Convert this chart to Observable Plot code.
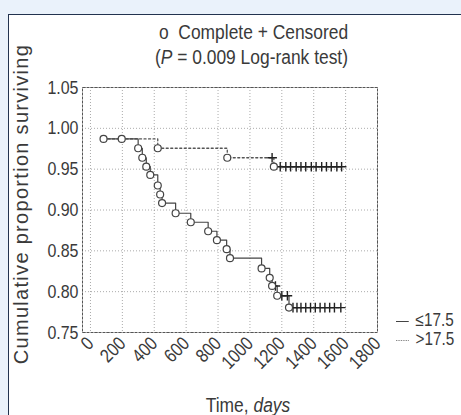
<!DOCTYPE html>
<html><head><meta charset="utf-8">
<script src="https://cdn.jsdelivr.net/npm/d3@7"></script>
<script src="https://cdn.jsdelivr.net/npm/@observablehq/plot@0.6"></script>
<style>
body{margin:0;background:#eaf2fb;font-family:"Liberation Sans",Arial,sans-serif;color:#3a3a3a;}
#wrap{position:relative;width:461px;height:415px;overflow:hidden;}
#panel{position:absolute;left:8px;top:14px;width:470px;height:420px;background:#fff;border-left:1.5px solid #22334f;border-top:1.5px solid #22334f;}
.t{position:absolute;white-space:nowrap;text-align:center;font-size:20px;line-height:1;}
.c{transform:scaleX(0.87);transform-origin:center;}
#chart{position:absolute;left:0;top:0;}
#chart svg text{font-size:19px;font-family:"Liberation Sans",Arial,sans-serif;}
.leg{position:absolute;left:396px;font-size:18px;line-height:1;white-space:nowrap;transform:scaleX(0.85);transform-origin:left center;}
.sw{display:inline-block;width:15px;vertical-align:middle;margin-right:8px;}
</style></head>
<body><div id="wrap"><div id="panel"></div>
<div class="t c" style="left:146px;width:200px;top:22px;">o&nbsp; Complete + Censored</div>
<div class="t c" style="left:142px;width:200px;top:47px;">(<i>P</i> = 0.009 Log-rank test)</div>
<div class="t c" style="left:148px;width:200px;top:395px;">Time, <i>days</i></div>
<div class="t" style="left:21px;top:204px;font-size:20px;letter-spacing:1.3px;transform:translate(-50%,-50%) rotate(-90deg);">Cumulative proportion surviving</div>
<div id="chart"></div>
<div class="leg" style="top:311px;"><span class="sw" style="border-top:1.5px solid #444;"></span>≤17.5</div>
<div class="leg" style="top:330px;"><span class="sw" style="border-top:1.5px dotted #666;"></span>&gt;17.5</div>
</div>
<script>
const groups = ["≤17.5", ">17.5"];
// group ≤17.5 (solid): time in days, survival, status (1 = complete, 0 = censored)
const lowTime = [82,196,299,325,350,375,422,437,449,534,629,738,793,854,875,1073,1124,1139,1160,1171,1200,1235,1245,1270,1295,1320,1350,1380,1410,1440,1470,1500,1530,1570];
const lowSurv = [0.987,0.987,0.9756,0.964,0.953,0.943,0.930,0.919,0.9085,0.896,0.885,0.874,0.863,0.852,0.841,0.8285,0.817,0.807,0.807,0.795,0.795,0.795,0.7805,0.7805,0.7805,0.7805,0.7805,0.7805,0.7805,0.7805,0.7805,0.7805,0.7805,0.7805];
const lowStatus = [1,1,1,1,1,1,1,1,1,1,1,1,1,1,1,1,1,1,0,1,0,0,1,0,0,0,0,0,0,0,0,0,0,0];
// group >17.5 (dotted)
const highTime = [82,422,858,1139,1150,1190,1225,1255,1290,1320,1350,1385,1415,1450,1480,1510,1545,1575];
const highSurv = [0.987,0.9756,0.964,0.964,0.953,0.953,0.953,0.953,0.953,0.953,0.953,0.953,0.953,0.953,0.953,0.953,0.953,0.953];
const highStatus = [-1,1,1,0,1,0,0,0,0,0,0,0,0,0,0,0,0,0];
const xTicks = [0,200,400,600,800,1000,1200,1400,1600,1800];
const yTicks = [0.75,0.80,0.85,0.90,0.95,1.00,1.05];

const low = lowTime.map((t,i)=>({t, s: lowSurv[i], st: lowStatus[i], g: groups[0]}));
const high = highTime.map((t,i)=>({t, s: highSurv[i], st: highStatus[i], g: groups[1]}));
const all = low.concat(high);

const chart = Plot.plot({
  width: 461, height: 415,
  marginLeft: 82, marginRight: 84, marginTop: 87, marginBottom: 83,
  style: {background: "transparent", color: "#3a3a3a", overflow: "visible"},
  x: {domain: [-50, 1800]},
  y: {domain: [0.75, 1.05]},
  marks: [
    Plot.gridX(xTicks, {stroke: "#888", strokeOpacity: 0.7, strokeDasharray: "1,2"}),
    Plot.gridY(yTicks, {stroke: "#888", strokeOpacity: 0.7, strokeDasharray: "1,2"}),
    Plot.frame({stroke: "#555", strokeDasharray: "3,1"}),
    Plot.line(high, {x: "t", y: "s", curve: "step-after", stroke: "#555", strokeWidth: 1.3, strokeDasharray: "2,2.5"}),
    Plot.line(low, {x: "t", y: "s", curve: "step-after", stroke: "#444", strokeWidth: 1.2}),
    Plot.dot(all.filter(d => d.st === 0), {x: "t", y: "s", symbol: "plus", r: 3.2, stroke: "#222", strokeWidth: 1.4}),
    Plot.dot(all.filter(d => d.st === 1), {x: "t", y: "s", symbol: "circle", r: 3.5, stroke: "#444", fill: "white", strokeWidth: 1.2}),
    Plot.axisX(xTicks, {tickRotate: -45, tickSize: 0, tickPadding: 8, fill: "#3a3a3a", tickFormat: d => String(d), label: null}),
    Plot.axisY(yTicks, {tickSize: 0, tickPadding: 4, fill: "#3a3a3a", tickFormat: d3.format(".2f"), label: null})
  ]
});
document.getElementById("chart").appendChild(chart);
chart.querySelectorAll("text").forEach(t => {
  const L = t.getComputedTextLength();
  if (L > 0) { t.setAttribute("textLength", (L * 0.84).toFixed(1)); t.setAttribute("lengthAdjust", "spacingAndGlyphs"); }
});
</script>
</body></html>
